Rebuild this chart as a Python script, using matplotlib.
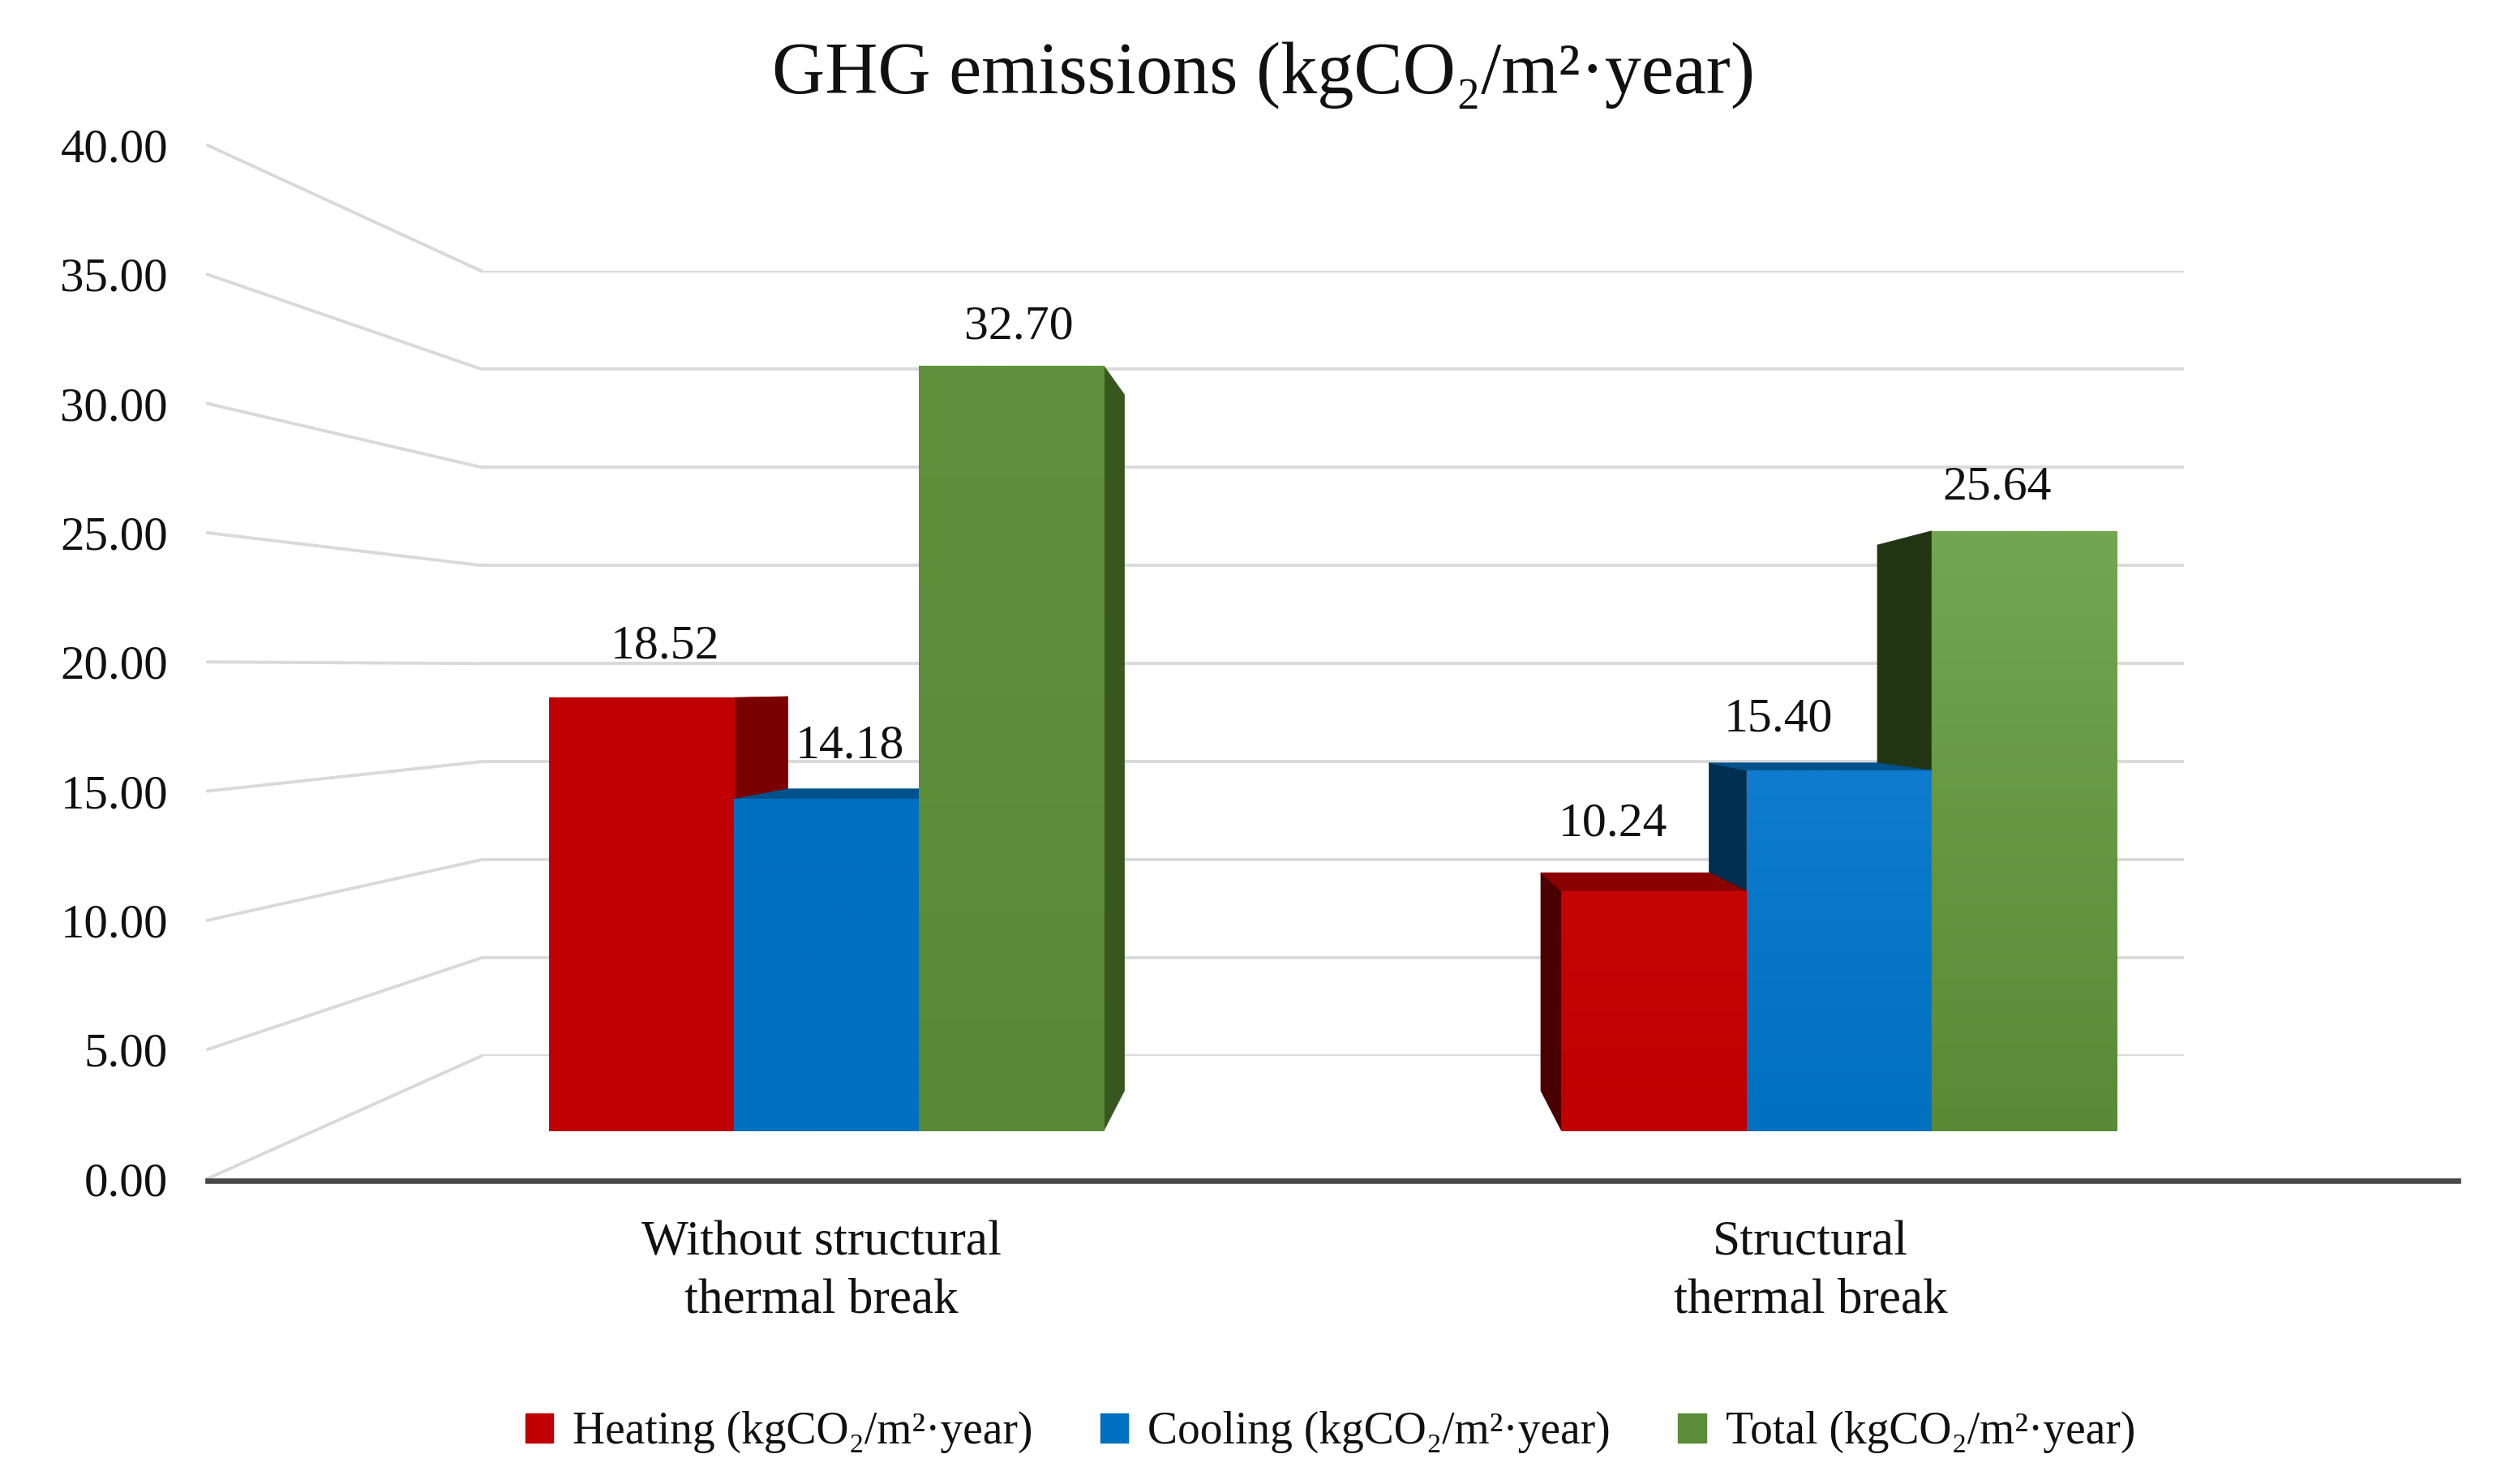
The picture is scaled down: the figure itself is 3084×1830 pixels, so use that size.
import numpy as np
import matplotlib
matplotlib.use("Agg")
import matplotlib.pyplot as plt
from matplotlib.patches import ConnectionPatch, Polygon, Patch
from matplotlib.colors import to_rgb

# ---------- data ----------
title = "GHG emissions (kgCO₂/m²·year)"
categories = ["Without structural\nthermal break", "Structural\nthermal break"]
series_names = ["Heating (kgCO₂/m²·year)", "Cooling (kgCO₂/m²·year)", "Total (kgCO₂/m²·year)"]
heating = [18.52, 10.24]
cooling = [14.18, 15.40]
total = [32.70, 25.64]
y_ticks = [0, 5, 10, 15, 20, 25, 30, 35, 40]

# ---------- style ----------
plt.rcParams["font.family"] = ["Liberation Serif", "DejaVu Serif"]
W, H = 1568.0, 930.4
SCALE = 3084 / W
C_GRID = "#d9d9d9"
C_TEXT = "#111111"
FRONT = ["#c00000", "#0070c0", "#5b8c3a"]
TOPS = ["#8b0000", "#00528c", "#3f6328"]
SIDES_R = ["#7a0000", "#00416f", "#38571f"]
SIDES_L = ["#4a0000", "#002f50", "#233614"]
GRAD = [
    [("#c00000", "#c00000"), ("#c60505", "#c00000")],
    [("#0070c0", "#0070c0"), ("#0f7ccf", "#0070c0")],
    [("#60913c", "#5a8a38"), ("#72a650", "#5a8a35")],
]
LABEL_OFFSETS = [
    [(15, 32), (-26, 42)],
    [(15, 33), (-38, 32)],
    [(5, 24), (-17, 27)],
]


def box(x0, x1, y_top, y_bot):
    return [x0 / W, 1 - y_bot / H, (x1 - x0) / W, (y_bot - y_top) / H]


fig = plt.figure(figsize=(30.84, 18.30), dpi=100, facecolor="white")

# back wall
wall = fig.add_axes(box(302, 1369, 170, 662), zorder=1)
wall.set_xlim(0, 1)
wall.set_ylim(0, 40)
wall.axis("off")
wall.hlines(y_ticks, 0, 1, color=C_GRID, lw=2.8)

# front value axis, floor line, category labels
main = fig.add_axes(box(130, 1541, 91, 739), zorder=2)
main.patch.set_alpha(0)
main.set_ylim(0, 40)
main.set_xlim((130 - 515) / 620, (1541 - 515) / 620)
for s in ["top", "left", "right"]:
    main.spines[s].set_visible(False)
main.spines["bottom"].set_position(("outward", 2))
main.spines["bottom"].set_linewidth(4.8)
main.spines["bottom"].set_color("#484848")
main.set_yticks(y_ticks)
main.set_yticklabels([f"{v:.2f}" for v in y_ticks], fontsize=42.5, color=C_TEXT)
main.set_xticks([0, 1])
main.set_xticklabels(categories, fontsize=44, color=C_TEXT, linespacing=1.37)
main.tick_params(axis="both", length=0)
main.tick_params(axis="y", pad=35)
main.tick_params(axis="x", pad=35)

for v in y_ticks:
    fig.add_artist(ConnectionPatch(
        xyA=(main.get_xlim()[0], v), coordsA=main.transData,
        xyB=(0, v), coordsB=wall.transData,
        color=C_GRID, lw=2.8, zorder=1))

# bars in their own front plane
bars = fig.add_axes(box(130, 1541, 91, 709), zorder=3)
bars.patch.set_alpha(0)
bars.axis("off")
x_lim = ((130 - 518) / 635, (1541 - 518) / 635)
y_lim = (0, (709 - 91) / 14.67)
bars.set_xlim(*x_lim)
bars.set_ylim(*y_lim)

bar_w = 116 / 635
vanish = (0.5, 19.0)
depth = 0.0905


def back(x, v):
    return (x + depth * (vanish[0] - x), v + depth * (vanish[1] - v))


all_series = [heating, cooling, total]
x_pos = np.arange(len(categories))

for s, vals in enumerate(all_series):
    for g, v in enumerate(vals):
        x0 = x_pos[g] + (s - 1.5) * bar_w
        x1 = x0 + bar_w
        if x1 < vanish[0]:
            e, col = x1, SIDES_R[s]
        else:
            e, col = x0, SIDES_L[s]
        bars.add_patch(Polygon([(e, v), back(e, v), back(e, 0), (e, 0)],
                               closed=True, fc=col, ec=col, lw=0.5, zorder=2))
for s, vals in enumerate(all_series):
    for g, v in enumerate(vals):
        x0 = x_pos[g] + (s - 1.5) * bar_w
        x1 = x0 + bar_w
        if v < vanish[1] - 1:
            bars.add_patch(Polygon([(x0, v), (x1, v), back(x1, v), back(x0, v)],
                                   closed=True, fc=TOPS[s], ec=TOPS[s], lw=0.5, zorder=3))

for s, vals in enumerate(all_series):
    rects = bars.bar(x_pos + (s - 1) * bar_w, vals, width=bar_w,
                     color=FRONT[s], zorder=4, label=series_names[s])
    for g, r in enumerate(rects):
        c0, c1 = (np.array(to_rgb(c)) for c in GRAD[s][g])
        t = np.linspace(0, 1, 128)[:, None, None]
        img = (1 - t) * c0[None, None, :] + t * c1[None, None, :]
        im = bars.imshow(img, aspect="auto", zorder=5, interpolation="bilinear",
                         extent=(r.get_x(), r.get_x() + r.get_width(), 0, r.get_height()))
        im.set_clip_path(r)
        dx, dy = LABEL_OFFSETS[s][g]
        bars.annotate(f"{vals[g]:.2f}", (r.get_x() + r.get_width() / 2, r.get_height()),
                      xytext=(dx * SCALE * 0.72, dy * SCALE * 0.72), textcoords="offset points",
                      ha="center", va="center", fontsize=43, color=C_TEXT, zorder=6)
bars.set_xlim(*x_lim)
bars.set_ylim(*y_lim)

fig.text(792 / W, 1 - 47 / H, title, ha="center", va="center", fontsize=65, color=C_TEXT)

handles = [Patch(color=c, label=n) for c, n in zip(FRONT, series_names)]
fig.legend(handles=handles, loc="center", bbox_to_anchor=(834 / W, 1 - 898 / H), ncol=3,
           frameon=False, fontsize=40, handlelength=0.62, handleheight=0.62,
           handletextpad=0.43, columnspacing=1.5, labelcolor=C_TEXT)

fig.savefig("out.png", dpi=100, facecolor="white")
